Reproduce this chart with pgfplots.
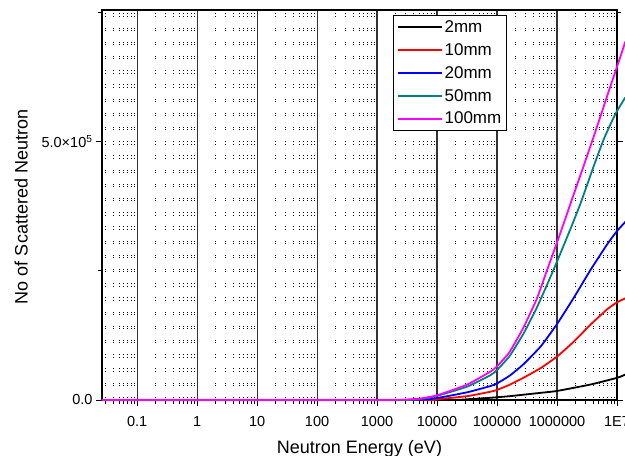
\documentclass[border=0pt]{standalone}
\usepackage{fontspec}
\setmainfont{Liberation Sans}
\usepackage{pgfplots}
\pgfplotsset{compat=1.18}
\definecolor{teal50}{RGB}{0,128,128}
\definecolor{mag100}{RGB}{255,0,255}
\definecolor{red10}{RGB}{255,0,0}
\definecolor{blue20}{RGB}{0,0,255}
\begin{document}
\begin{tikzpicture}
\useasboundingbox (-102pt,-56pt) rectangle (523pt,400pt);
\begin{axis}[
  at={(0pt,0pt)}, anchor=south west,
  scale only axis, width=515pt, height=390pt,
  xmode=log, log basis x=10,
  xmin=0.026, xmax=1e7, ymin=0, ymax=755000,
  clip=false,
  xtick={0.1,1,10,100,1000,10000,100000,1000000,10000000},
  xticklabels={0.1,1,10,100,1000,10000,100000,1000000,1E7},
  minor xtick={0.03,0.04,0.05,0.06,0.07,0.08,0.09,
    0.2,0.3,0.4,0.5,0.6,0.7,0.8,0.9,
    2,3,4,5,6,7,8,9,
    20,30,40,50,60,70,80,90,
    200,300,400,500,600,700,800,900,
    2000,3000,4000,5000,6000,7000,8000,9000,
    20000,30000,40000,50000,60000,70000,80000,90000,
    200000,300000,400000,500000,600000,700000,800000,900000,
    2000000,3000000,4000000,5000000,6000000,7000000,8000000,9000000},
  ytick={0,500000},
  yticklabels={0.0,5.0×10\textsuperscript{5}},
  minor ytick={250000,750000},
  xtick pos=bottom, ytick pos=both,
  tick align=outside,
  major tick length=6pt, minor tick length=4pt,
  every tick/.style={black, line width=0.9pt},
  xmajorgrids, xminorgrids,
  major grid style={black!80, line width=1.1pt},
  minor grid style={black, line width=0.8pt, dash pattern=on 0.8pt off 1.6pt on 0.8pt off 11pt},
  axis line style={black, line width=1.6pt},
  /pgf/number format/assume math mode=true,
  tick label style={font=\fontsize{14.5}{16}\selectfont},
  xticklabel style={yshift=-7pt},
  xlabel={Neutron Energy (eV)},
  ylabel={No of Scattered Neutron},
  label style={font=\fontsize{18}{21}\selectfont},
  xlabel style={at={(axis description cs:0.5,-0.125)}, anchor=center},
  ylabel style={at={(axis description cs:-0.157,0.495)}, anchor=center},
  legend style={at={(axis description cs:0.786,0.987)}, anchor=north east,
    draw=black, line width=1pt, font=\fontsize{17}{20}\selectfont,
    row sep=5.5pt, inner xsep=3pt, inner ysep=3pt},
  legend cell align=left,
  legend image code/.code={\draw[#1] (0pt,0pt) -- (44pt,0pt);},
  every axis plot/.append style={line width=1.8pt, line join=round, smooth, tension=0.3},
]
\addplot[black] coordinates {
 (0.026,0) (10000,0) (32000,1500) (77600,4300) (162000,7400) (537000,13900)
 (1000000,17500) (3630000,30000) (10000000,42900) (13800000,49300)};
\addlegendentry{2mm}
\addplot[red10] coordinates {
 (0.026,0) (5000,0) (10000,1500) (32000,7500) (77600,16000) (100000,19500)
 (162000,29500) (275000,42900) (537000,62000) (1000000,84000) (1905000,113000)
 (3630000,146000) (6918000,176000) (10000000,189000) (13800000,197000)};
\addlegendentry{10mm}
\addplot[blue20] coordinates {
 (0.026,0) (3000,0) (10000,4000) (32000,15000) (77600,27000) (100000,32000)
 (162000,47000) (275000,69000) (537000,104000) (1000000,147000) (1905000,198000)
 (3630000,252000) (6918000,302000) (10000000,327000) (13800000,345000)};
\addlegendentry{20mm}
\addplot[teal50] coordinates {
 (0.026,0) (2000,0) (5000,1500) (10000,8000) (32000,26000) (77600,48000)
 (100000,58000) (162000,85000) (275000,128000) (457000,178000) (676000,222000)
 (1000000,268000) (1660000,330000) (2455000,380000) (4074000,452000)
 (6026000,505000) (9333000,553000) (13800000,586000)};
\addlegendentry{50mm}
\addplot[mag100] coordinates {
 (0.026,0) (1000,0) (3000,1000) (5000,2500) (10000,9000) (32000,30000)
 (77600,55000) (100000,65000) (162000,93000) (275000,140000) (457000,195000)
 (676000,250000) (1000000,305000) (1445000,358000) (1820000,392000)
 (2818000,455000) (4677000,530000) (6918000,590000) (10000000,645000)
 (13800000,694000)};
\addlegendentry{100mm}
\end{axis}
\end{tikzpicture}
\end{document}
